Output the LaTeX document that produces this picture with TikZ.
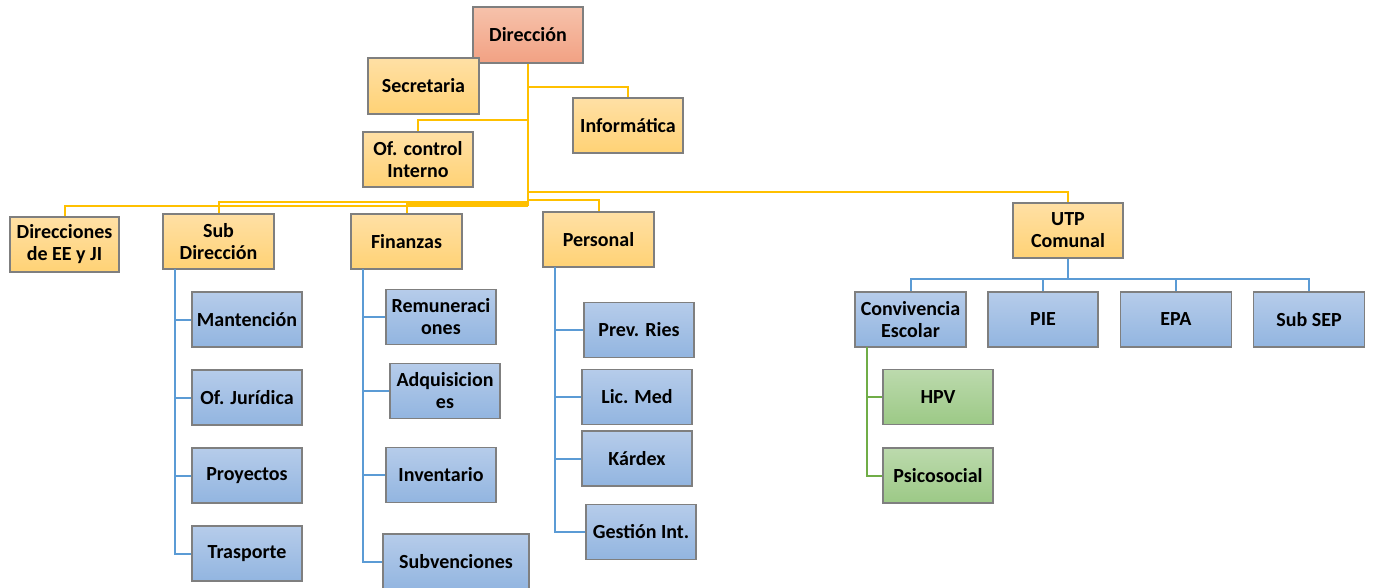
\documentclass[tikz,border=0pt]{standalone}
\usepackage{fontspec}
\setmainfont{Carlito}
\definecolor{dirT}{HTML}{F6C2AB}
\definecolor{dirB}{HTML}{F2A183}
\definecolor{ylT}{HTML}{FFE0A5}
\definecolor{ylB}{HTML}{FFD275}
\definecolor{blT}{HTML}{B6CCEA}
\definecolor{blB}{HTML}{92B5E0}
\definecolor{grT}{HTML}{BCDAAD}
\definecolor{grB}{HTML}{9CC986}
\definecolor{bord}{HTML}{7F7F7F}
\definecolor{lnY}{HTML}{FFC000}
\definecolor{lnB}{HTML}{5B9BD5}
\definecolor{lnG}{HTML}{70AD47}
\tikzset{
  boxbase/.style={draw=bord, line width=1.2pt, minimum width=110pt, minimum height=55pt,
    inner sep=1pt, align=center, font=\fontsize{20}{22}\selectfont\bfseries},
  dirbox/.style={boxbase, top color=dirT, bottom color=dirB},
  ybox/.style={boxbase, top color=ylT, bottom color=ylB},
  bbox/.style={boxbase, top color=blT, bottom color=blB},
  gbox/.style={boxbase, top color=grT, bottom color=grB},
  yl/.style={draw=lnY, line width=2pt},
  bl/.style={draw=lnB, line width=2pt},
  gl/.style={draw=lnG, line width=2pt},
}
\begin{document}
\begin{tikzpicture}[x=1pt, y=-1pt]
\useasboundingbox (0,0) rectangle (1373,587);
% top level
\node[dirbox, minimum height=56pt] (dir) at (528,35) {Dirección};
\node[ybox, minimum width=111pt, minimum height=56pt] (sec) at (423.5,86) {Secretaria};
\node[ybox] (inf) at (628,125.5) {Informática};
\node[ybox] (ofc) at (418,159.5) {Of. control\\Interno};
% second level
\node[ybox, minimum width=109pt] (dee) at (64.5,244.5) {Direcciones\\de EE y JI};
\node[ybox, minimum width=111pt] (sub) at (218.5,241.5) {Sub\\Dirección};
\node[ybox, minimum width=111pt] (fin) at (406.5,241.5) {Finanzas};
\node[ybox, minimum width=111pt] (per) at (598.5,239.5) {Personal};
\node[ybox] (utp) at (1068,230.5) {UTP\\Comunal};
% UTP children
\node[bbox, minimum width=111pt] (conv) at (910.5,319.5) {Convivencia\\Escolar};
\node[bbox] (pie) at (1043,319.5) {PIE};
\node[bbox, minimum width=111pt] (epa) at (1176,319.5) {EPA};
\node[bbox, minimum width=111pt] (ssep) at (1309,319.5) {Sub SEP};
\node[gbox] (hpv) at (938,397) {HPV};
\node[gbox] (psi) at (938,475.5) {Psicosocial};
% Sub Direccion children
\node[bbox] (man) at (247,319.5) {Mantención};
\node[bbox] (jur) at (247,397.5) {Of. Jurídica};
\node[bbox] (pro) at (247,475.5) {Proyectos};
\node[bbox] (tra) at (247,553.5) {Trasporte};
% Finanzas children
\node[bbox] (rem) at (441,317) {Remuneraci\\ones};
\node[bbox] (adq) at (445,391) {Adquisicion\\es};
\node[bbox] (inv) at (441,475) {Inventario};
\node[bbox, minimum width=146pt, minimum height=56pt] (subv) at (456,562) {Subvenciones};
% Personal children
\node[bbox] (prev) at (639,330) {Prev. Ries};
\node[bbox] (lic) at (637,397) {Lic. Med};
\node[bbox] (kar) at (637,458.5) {Kárdex};
\node[bbox] (ges) at (641,532) {Gestión Int.};
% yellow connectors
\coordinate (tb) at (528,206);
\draw[yl] (dir.south) -- (tb);
\draw[yl] (dir.south |- 0,87) -| (inf.north);
\draw[yl] (dir.south |- 0,120) -| (ofc.north);
\draw[yl] (tb) -| (dee.north);
\draw[yl] (dir.south |- 0,202) -| (sub.north);
\draw[yl] (dir.south |- 0,204) -| (fin.north);
\draw[yl] (dir.south |- 0,199.5) -| (per.north);
\draw[yl] (dir.south |- 0,191.5) -| (utp.north);
% UTP blue connectors
\coordinate (ub) at (1068,279);
\draw[bl] (utp.south) -- (ub);
\draw[bl] (ub) -| (conv.north);
\draw[bl] (ub) -| (pie.north);
\draw[bl] (ub) -| (epa.north);
\draw[bl] (ub) -| (ssep.north);
% green
\coordinate (gt) at (867,347);
\draw[gl] (gt) |- (psi.west);
\draw[gl] (hpv.west) -| (gt);
% Sub Direccion
\coordinate (st) at (175,269);
\draw[bl] (st) |- (tra.west);
\draw[bl] (man.west) -| (st);
\draw[bl] (jur.west) -| (st);
\draw[bl] (pro.west) -| (st);
% Finanzas
\coordinate (ft) at (362.5,269);
\draw[bl] (ft) |- (subv.west);
\draw[bl] (rem.west) -| (ft);
\draw[bl] (adq.west) -| (ft);
\draw[bl] (inv.west) -| (ft);
% Personal
\coordinate (pt) at (555,267);
\draw[bl] (pt) |- (ges.west);
\draw[bl] (prev.west) -| (pt);
\draw[bl] (lic.west) -| (pt);
\draw[bl] (kar.west) -| (pt);
\end{tikzpicture}
\end{document}
